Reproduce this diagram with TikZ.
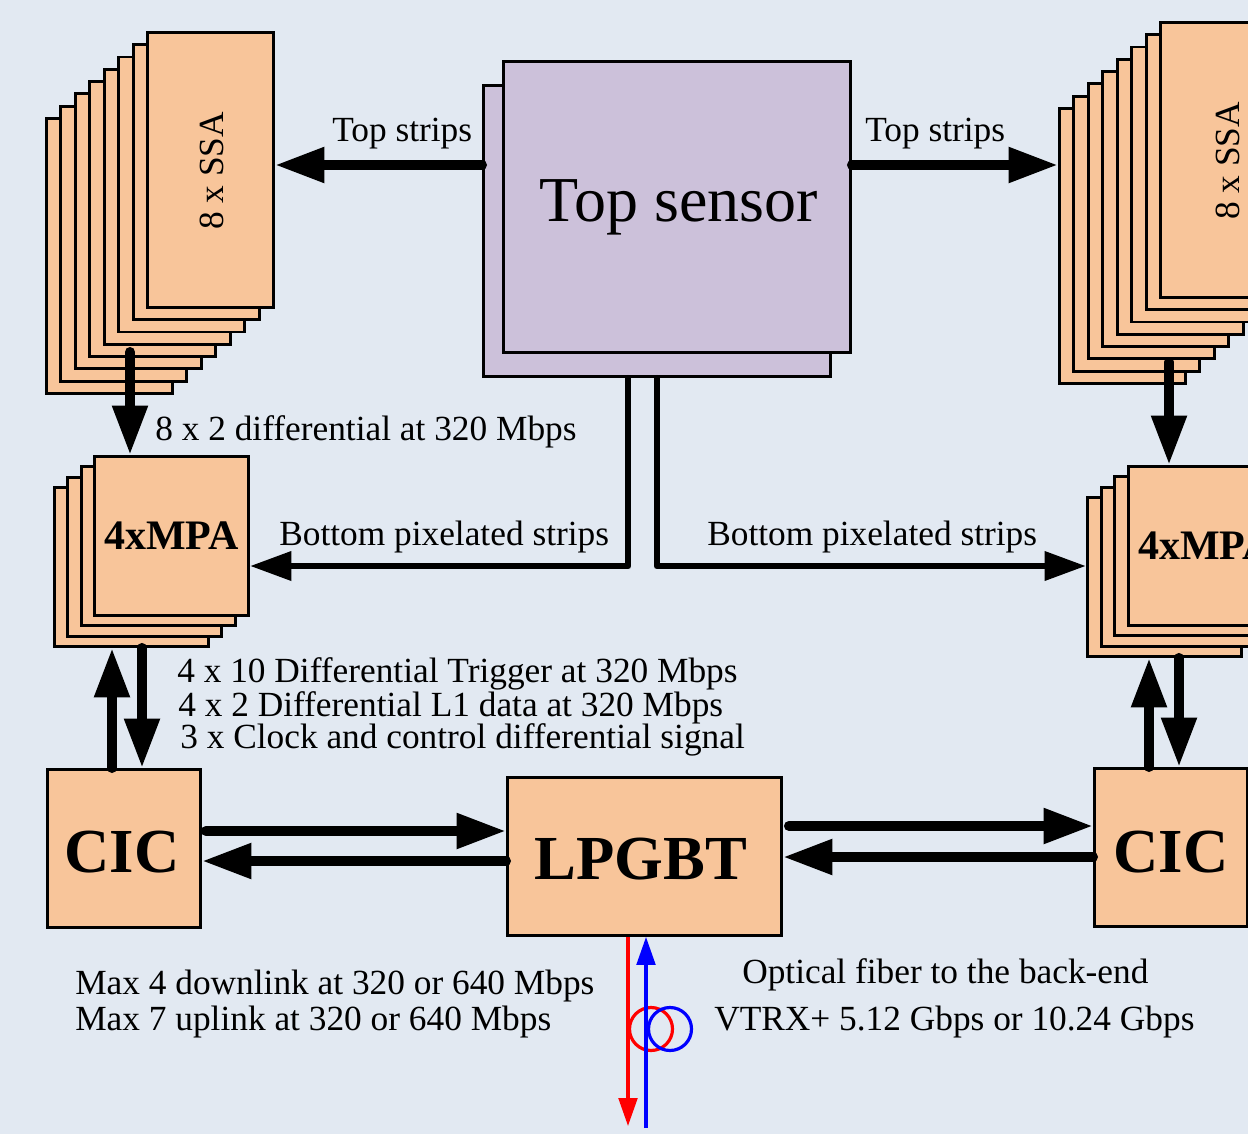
\documentclass[tikz,border=0pt]{standalone}
\usepackage{fontspec}
\setmainfont{Liberation Serif}
\usetikzlibrary{arrows.meta,calc}
\definecolor{bg}{RGB}{226,233,242}
\definecolor{org}{RGB}{248,197,154}
\definecolor{lav}{RGB}{204,193,218}
\tikzset{
  box/.style={draw=black, line width=2.2pt, fill=org, rectangle, inner sep=0pt, anchor=north west},
  ssabox/.style={box, minimum width=94.5pt, minimum height=206.25pt},
  mpabox/.style={box, minimum width=115.5pt, minimum height=119.25pt},
  senbox/.style={box, fill=lav, minimum width=260.25pt, minimum height=218.5pt},
  cicbox/.style={box, minimum width=114.75pt, minimum height=118.5pt},
  lbl/.style={inner sep=0pt, anchor=base west, font=\fontsize{26.5}{30}\selectfont},
  bigarrow/.style={line width=7.5pt, line cap=round, -{Triangle[length=37pt,width=25pt]}},
  midarrow/.style={line width=5pt, line cap=round, line join=round, -{Triangle[length=31pt,width=21pt]}},
  fiber/.style={line width=2.4pt, -{Triangle[length=21pt,width=14pt]}},
}
\begin{document}
\begin{tikzpicture}[x=0.75pt,y=-0.75pt]
\fill[bg] (0,0) rectangle (1248,1134);
\useasboundingbox (0,0) rectangle (1248,1134);

% SSA stacks
\foreach \i in {0,...,6}
  \node[ssabox] (ssaL\i) at ({45+\i*14.43},{117-\i*12.29}) {};
\node[ssabox] (ssaL) at (146,31) {};
\node[inner sep=0pt, rotate=90, font=\fontsize{26.5}{30}\selectfont] (ssaLt) at ($(ssaL.center)+(1,1)$) {8 x SSA};

\foreach \i in {0,...,6}
  \node[ssabox] (ssaR\i) at ({1058+\i*14.43},{107-\i*12.29}) {};
\node[ssabox] (ssaR) at (1159,21) {};
\node[inner sep=0pt, rotate=90, font=\fontsize{26.5}{30}\selectfont] (ssaRt) at ($(ssaR.center)+(4,1)$) {8 x SSA};

% MPA stacks
\foreach \i in {0,1,2}
  \node[mpabox] (mpaL\i) at ({53+\i*13.33},{486-\i*10.33}) {};
\node[mpabox] (mpaL) at (93,455) {};
\node[inner sep=0pt, font=\bfseries\fontsize{31.5}{36}\selectfont] (mpaLt) at (mpaL.center) {4xMPA};

\foreach \i in {0,1,2}
  \node[mpabox] (mpaR\i) at ({1086+\i*13.67},{496-\i*10.33}) {};
\node[mpabox] (mpaR) at (1127,465) {};
\node[inner sep=0pt, font=\bfseries\fontsize{31.5}{36}\selectfont] (mpaRt) at (mpaR.center) {4xMPA};

% Sensor
\node[senbox] (sensB) at (482,84) {};
\node[senbox] (sensF) at (502,60) {};
\node[inner sep=0pt, anchor=base, font=\fontsize{48}{54}\selectfont] (sensT) at (679,222) {Top sensor};

% CIC and LPGBT
\node[cicbox] (cicL) at (46,768) {};
\node[inner sep=0pt, anchor=base, font=\bfseries\fontsize{47}{54}\selectfont] (cicLt) at (122,872) {CIC};
\node[cicbox, minimum width=205.5pt] (lpgbt) at (506,776) {};
\node[inner sep=0pt, anchor=base, font=\bfseries\fontsize{47}{54}\selectfont] (lpgbtt) at (641,879) {LPGBT};
\node[cicbox] (cicR) at (1093,767) {};
\node[inner sep=0pt, anchor=base, font=\bfseries\fontsize{47}{54}\selectfont] (cicRt) at (1171,872) {CIC};

% coordinates for connector routing
\coordinate (tsy) at (0,165);
\coordinate (sL) at (130,352);
\coordinate (sR) at (1169,362);
\coordinate (bsL) at (628,566);
\coordinate (bsR) at (657,566);
\coordinate (upL) at (112,0);
\coordinate (dnL) at (142,0);
\coordinate (upR) at (1149,0);
\coordinate (dnR) at (1179,0);
\coordinate (hL1) at (0,831);
\coordinate (hL2) at (0,861);
\coordinate (hR1) at (0,826);
\coordinate (hR2) at (0,857);
\coordinate (red) at (628,1126);
\coordinate (blue) at (646,1128);

% connectors
\draw[bigarrow] (sensB.west |- tsy) -- (ssaL.east |- tsy);
\draw[bigarrow] (sensF.east |- tsy) -- (ssaR0.west |- tsy);
\draw[bigarrow] (sL) -- (sL |- mpaL.north);
\draw[bigarrow] (sR) -- (sR |- mpaR.north);
\draw[midarrow] (bsL |- sensB.south) -- (bsL) -- (mpaL.east |- bsL);
\draw[midarrow] (bsR |- sensB.south) -- (bsR) -- (mpaR0.west |- bsR);
\draw[bigarrow] (upL |- cicL.north) -- (upL |- mpaL0.south);
\draw[bigarrow] (dnL |- mpaL0.south) -- (dnL |- cicL.north);
\draw[bigarrow] (upR |- cicR.north) -- (upR |- mpaR0.south);
\draw[bigarrow] (dnR |- mpaR0.south) -- (dnR |- cicR.north);
\draw[bigarrow] ($(cicL.east |- hL1)+(4,0)$) -- (lpgbt.west |- hL1);
\draw[bigarrow] (lpgbt.west |- hL2) -- (cicL.east |- hL2);
\draw[bigarrow] ($(lpgbt.east |- hR1)+(6,0)$) -- (cicR.west |- hR1);
\draw[bigarrow] (cicR.west |- hR2) -- (lpgbt.east |- hR2);

% optical fiber
\draw[red, line width=2.4pt] (651,1029) circle (21.5);
\draw[blue, line width=2.4pt] (670,1029) circle (21.5);
\draw[fiber, blue] (blue) -- (blue |- lpgbt.south);
\draw[fiber, red] (red |- lpgbt.south) -- (red);

% labels
\node[lbl] (l1) at (332,142) {Top strips};
\node[lbl] (l2) at (865,142) {Top strips};
\node[lbl] (l3) at (155,440) {8 x 2 differential at 320 Mbps};
\node[lbl] (l4) at (279,545) {Bottom pixelated strips};
\node[lbl] (l5) at (707,545) {Bottom pixelated strips};
\node[lbl] (l6) at (177,682) {4 x 10 Differential Trigger at 320 Mbps};
\node[lbl] (l7) at (178,716) {4 x 2 Differential L1 data at 320 Mbps};
\node[lbl] (l8) at (180,748) {3 x Clock and control differential signal};
\node[lbl] (l9) at (75,994) {Max 4 downlink at 320 or 640 Mbps};
\node[lbl] (l10) at (75,1030) {Max 7 uplink at 320 or 640 Mbps};
\node[lbl] (l11) at (742,983) {Optical fiber to the back-end};
\node[lbl] (l12) at (714,1030) {VTRX+ 5.12 Gbps or 10.24 Gbps};
\end{tikzpicture}
\end{document}
